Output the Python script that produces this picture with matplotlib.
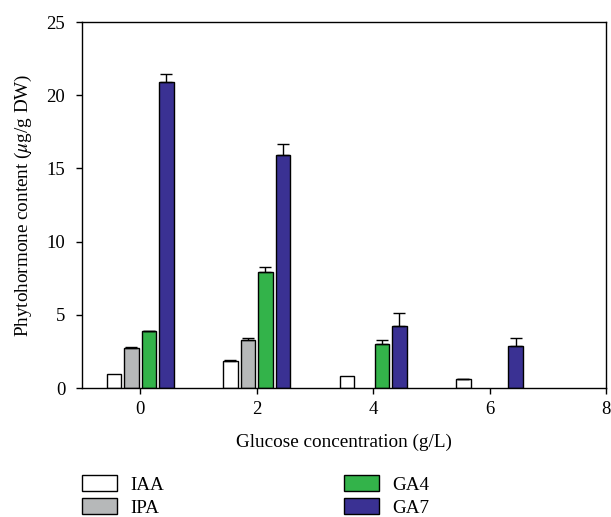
import numpy as np
import matplotlib.pyplot as plt
from matplotlib.patches import Patch

plt.rcParams['font.family'] = 'Liberation Serif'
plt.rcParams['mathtext.fontset'] = 'stix'

glucose = [0, 2, 4, 6]
series = ['IAA', 'IPA', 'GA4', 'GA7']
colors = ['#ffffff', '#b6b8b9', '#33b34a', '#3a3193']

iaa = [0.95, 1.87, 0.80, 0.61]
ipa = [2.71, 3.30, 0.0, 0.0]
ga4 = [3.87, 7.90, 3.00, 0.0]
ga7 = [20.88, 15.90, 4.23, 2.89]

iaa_err = [0.0, 0.03, 0.0, 0.02]
ipa_err = [0.06, 0.10, 0.0, 0.0]
ga4_err = [0.05, 0.40, 0.30, 0.0]
ga7_err = [0.55, 0.75, 0.87, 0.55]

values = [iaa, ipa, ga4, ga7]
errors = [iaa_err, ipa_err, ga4_err, ga7_err]
offsets = [-0.45, -0.15, 0.15, 0.45]
width = 0.25

fig = plt.figure(figsize=(6.11, 5.17), dpi=100)
ax = fig.add_axes([0.1342, 0.2495, 0.9918 - 0.1342, 0.9574 - 0.2495])

x = np.array(glucose, dtype=float)
for vals, errs, off, c in zip(values, errors, offsets, colors):
    vals = np.array(vals)
    errs = np.array(errs)
    m = vals > 0
    ax.bar(x[m] + off, vals[m], width=width, color=c, edgecolor='black', linewidth=1.0, zorder=2)
    e = m & (errs > 0)
    ax.errorbar(x[e] + off, vals[e], yerr=[np.zeros(e.sum()), errs[e]], fmt='none',
                ecolor='black', elinewidth=1.0, capsize=4, capthick=1.0, zorder=3)

ax.set_xlim(-1, 8)
ax.set_ylim(0, 25)
ax.set_xticks([0, 2, 4, 6, 8])
ax.set_yticks([0, 5, 10, 15, 20, 25])
ax.tick_params(direction='out', length=4, width=1, labelsize=13.5, pad=5)
ax.tick_params(axis='y', pad=8)
for s in ax.spines.values():
    s.set_linewidth(1.0)
ax.set_xlabel('Glucose concentration (g/L)', fontsize=13.8, labelpad=12)
ax.set_ylabel(r'Phytohormone content ($\mu$g/g DW)', fontsize=13.8, labelpad=9)

handles = [Patch(facecolor=c, edgecolor='black', linewidth=1.0, label=s) for s, c in zip(series, colors)]
fig.legend(handles=handles, ncol=2, loc='upper left', bbox_to_anchor=(0.1215, 0.096),
           frameon=False, fontsize=13.8, handlelength=1.85, handleheight=0.9,
           columnspacing=9.35, labelspacing=0.25, handletextpad=0.7, borderaxespad=0)

fig.savefig('out.png', dpi=100)
